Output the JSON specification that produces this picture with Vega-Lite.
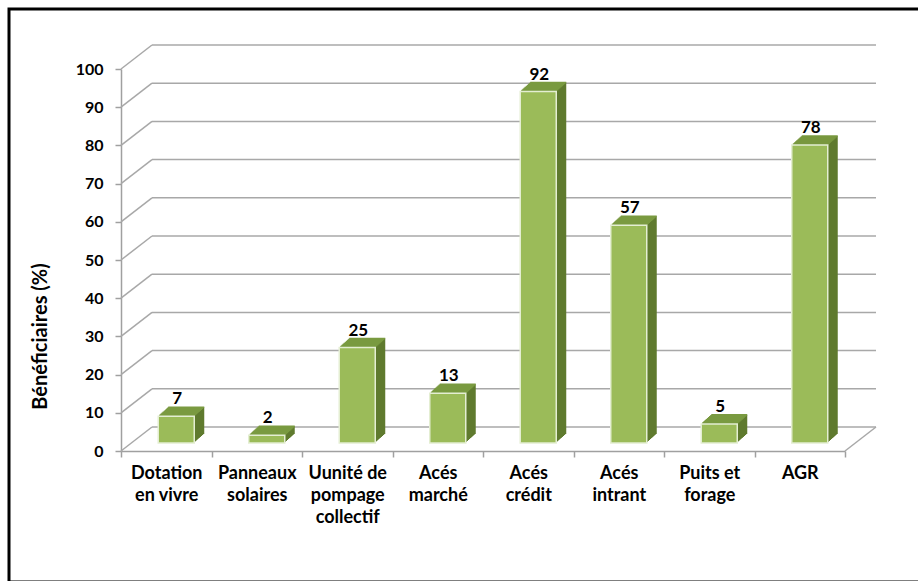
{
  "$schema": "https://vega.github.io/schema/vega-lite/v6.json",
  "autosize": {"type": "none"},
  "padding": {"left": 9, "top": 9, "right": 0, "bottom": 0},
  "width": 912,
  "height": 573,
  "background": "white",
  "config": {"view": {"stroke": "#000000", "strokeWidth": 3}},
  "datasets": {
    "rows": [
      {"cat": "Dotation en vivre", "value": 7},
      {"cat": "Panneaux solaires", "value": 2},
      {"cat": "Uunité de pompage collectif", "value": 25},
      {"cat": "Acés marché", "value": 13},
      {"cat": "Acés crédit", "value": 92},
      {"cat": "Acés intrant", "value": 57},
      {"cat": "Puits et forage", "value": 5},
      {"cat": "AGR", "value": 78}
    ],
    "grid": [
      {"v": 0}, {"v": 10}, {"v": 20}, {"v": 30}, {"v": 40}, {"v": 50},
      {"v": 60}, {"v": 70}, {"v": 80}, {"v": 90}, {"v": 100}
    ],
    "floor": [{"v": 0}]
  },
  "layer": [
    {
      "layer": [
        {
          "data": {"name": "grid"},
          "mark": {"type": "rule", "color": "#a8a8a8", "strokeWidth": 1.5, "xOffset": 31, "x2Offset": 31, "yOffset": -24},
          "encoding": {
            "x": {"datum": 0, "type": "quantitative", "scale": {"domain": [0, 1], "range": [112, 836], "nice": false, "zero": false}, "axis": null},
            "x2": {"datum": 1},
            "y": {
              "field": "v", "type": "quantitative",
              "scale": {"domain": [0, 100], "range": [442, 60], "nice": false},
              "axis": {
                "title": "Bénéficiaires (%)",
                "titleFont": "Lato", "titleFontWeight": "bold", "titleFontSize": 20, "titleColor": "#000000",
                "titlePadding": 25, "titleY": 327,
                "values": [0, 10, 20, 30, 40, 50, 60, 70, 80, 90, 100],
                "labelFont": "Lato", "labelFontWeight": "bold", "labelFontSize": 16, "labelColor": "#000000",
                "labelPadding": 12,
                "tickSize": 6, "tickColor": "#a0a0a0", "tickWidth": 1.5,
                "domainColor": "#a0a0a0", "domainWidth": 1.5,
                "offset": -112,
                "grid": false
              }
            }
          }
        },
        {
          "data": {"name": "grid"},
          "mark": {"type": "rule", "color": "#a8a8a8", "strokeWidth": 1.5, "x2Offset": 31, "y2Offset": -24},
          "encoding": {
            "x": {"datum": 0, "type": "quantitative", "axis": null},
            "x2": {"datum": 0},
            "y": {"field": "v", "type": "quantitative"},
            "y2": {"field": "v"}
          }
        },
        {
          "data": {"name": "floor"},
          "mark": {"type": "rule", "color": "#a8a8a8", "strokeWidth": 1.5, "x2Offset": 31, "y2Offset": -24},
          "encoding": {
            "x": {"datum": 1, "type": "quantitative", "axis": null},
            "x2": {"datum": 1},
            "y": {"field": "v", "type": "quantitative"},
            "y2": {"field": "v"}
          }
        }
      ]
    },
    {
      "data": {"name": "rows"},
      "encoding": {
        "x": {
          "field": "cat", "type": "nominal", "sort": null,
          "scale": {"range": [112, 836], "paddingInner": 0, "paddingOuter": 0},
          "axis": {
            "title": null,
            "labelAngle": 0,
            "labelFont": "Lato", "labelFontWeight": "bold", "labelFontSize": 18, "labelColor": "#000000",
            "labelLineHeight": 22,
            "labelBaseline": "top",
            "labelPadding": 7,
            "labelExpr": "({'Dotation en vivre': ['Dotation', 'en vivre'], 'Panneaux solaires': ['Panneaux', 'solaires'], 'Uunité de pompage collectif': ['Uunité de', 'pompage', 'collectif'], 'Acés marché': ['Acés', 'marché'], 'Acés crédit': ['Acés', 'crédit'], 'Acés intrant': ['Acés', 'intrant'], 'Puits et forage': ['Puits et', 'forage'], 'AGR': ['AGR']})[datum.value]",
            "tickBand": "extent",
            "tickSize": 6, "tickColor": "#a0a0a0", "tickWidth": 1.5,
            "domainColor": "#a0a0a0", "domainWidth": 1.5,
            "offset": -131,
            "grid": false
          }
        },
        "y": {
          "field": "value", "type": "quantitative",
          "scale": {"domain": [0, 100], "range": [442, 60], "nice": false},
          "axis": {
            "title": "Bénéficiaires (%)",
            "titleFont": "Lato", "titleFontWeight": "bold", "titleFontSize": 20, "titleColor": "#000000",
            "titlePadding": 25, "titleY": 327,
            "values": [0, 10, 20, 30, 40, 50, 60, 70, 80, 90, 100],
            "labelFont": "Lato", "labelFontWeight": "bold", "labelFontSize": 16, "labelColor": "#000000",
            "labelPadding": 12,
            "tickSize": 6, "tickColor": "#a0a0a0", "tickWidth": 1.5,
            "domainColor": "#a0a0a0", "domainWidth": 1.5,
            "offset": -112,
            "grid": false
          }
        }
      },
      "layer": [
        {"mark": {"type": "bar", "width": 36, "color": "#5f7a2e", "xOffset": 11.1, "yOffset": -9}},
        {"mark": {"type": "bar", "width": 36, "color": "#5f7a2e", "xOffset": 12.2, "yOffset": -10}},
        {"mark": {"type": "bar", "width": 36, "color": "#5f7a2e", "xOffset": 13.3, "yOffset": -11}},
        {"mark": {"type": "bar", "width": 36, "color": "#5f7a2e", "xOffset": 14.4, "yOffset": -12}},
        {"mark": {"type": "bar", "width": 36, "color": "#5f7a2e", "xOffset": 15.6, "yOffset": -13}},
        {"mark": {"type": "bar", "width": 36, "color": "#5f7a2e", "xOffset": 16.7, "yOffset": -14}},
        {"mark": {"type": "bar", "width": 36, "color": "#5f7a2e", "xOffset": 17.8, "yOffset": -15}},
        {"mark": {"type": "bar", "width": 36, "color": "#5f7a2e", "xOffset": 18.9, "yOffset": -16}},
        {"mark": {"type": "bar", "width": 36, "color": "#5f7a2e", "xOffset": 20, "yOffset": -17}},
        {"mark": {"type": "tick", "orient": "horizontal", "size": 36, "thickness": 1.6, "color": "#7a9a40", "opacity": 1, "xOffset": 11.1, "yOffset": -9}},
        {"mark": {"type": "tick", "orient": "horizontal", "size": 36, "thickness": 1.6, "color": "#7a9a40", "opacity": 1, "xOffset": 12.2, "yOffset": -10}},
        {"mark": {"type": "tick", "orient": "horizontal", "size": 36, "thickness": 1.6, "color": "#7a9a40", "opacity": 1, "xOffset": 13.3, "yOffset": -11}},
        {"mark": {"type": "tick", "orient": "horizontal", "size": 36, "thickness": 1.6, "color": "#7a9a40", "opacity": 1, "xOffset": 14.4, "yOffset": -12}},
        {"mark": {"type": "tick", "orient": "horizontal", "size": 36, "thickness": 1.6, "color": "#7a9a40", "opacity": 1, "xOffset": 15.6, "yOffset": -13}},
        {"mark": {"type": "tick", "orient": "horizontal", "size": 36, "thickness": 1.6, "color": "#7a9a40", "opacity": 1, "xOffset": 16.7, "yOffset": -14}},
        {"mark": {"type": "tick", "orient": "horizontal", "size": 36, "thickness": 1.6, "color": "#7a9a40", "opacity": 1, "xOffset": 17.8, "yOffset": -15}},
        {"mark": {"type": "tick", "orient": "horizontal", "size": 36, "thickness": 1.6, "color": "#7a9a40", "opacity": 1, "xOffset": 18.9, "yOffset": -16}},
        {"mark": {"type": "tick", "orient": "horizontal", "size": 36, "thickness": 1.6, "color": "#7a9a40", "opacity": 1, "xOffset": 20, "yOffset": -17}},
        {"mark": {"type": "bar", "width": 36, "color": "#9bbb59", "stroke": "#e4eed2", "strokeWidth": 1.5, "xOffset": 10, "yOffset": -8}},
        {
          "mark": {"type": "text", "font": "Lato", "fontWeight": "bold", "fontSize": 17, "color": "#000000", "baseline": "alphabetic", "xOffset": 11, "yOffset": -20},
          "encoding": {"text": {"field": "value", "type": "quantitative"}}
        }
      ]
    }
  ],
  "resolve": {"scale": {"x": "independent"}}
}
